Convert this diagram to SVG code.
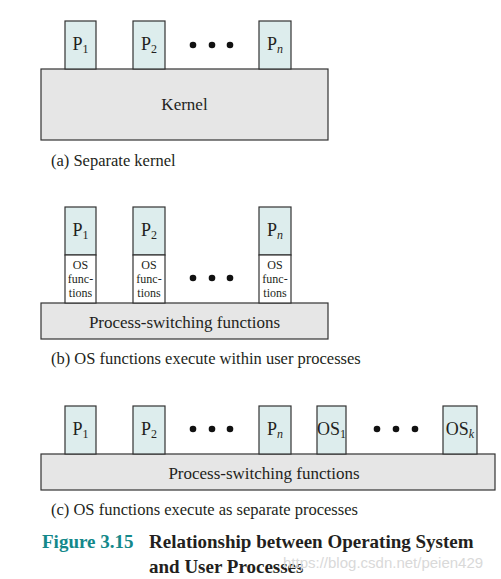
<svg xmlns="http://www.w3.org/2000/svg" width="501" height="579" viewBox="0 0 501 579">
<style>
.p{fill:#ddeded;stroke:#333;stroke-width:1.2}
.os{fill:#fff;stroke:#333;stroke-width:1.2}
.base{fill:#e6e6e6;stroke:#333;stroke-width:1.2}
text{font-family:"Liberation Serif","Times New Roman",serif;fill:#231f20}
.lbl{font-size:17px;text-anchor:middle}
.pl{font-size:18px;text-anchor:middle}
.sm{font-size:12px;text-anchor:middle}
.cap{font-size:16.5px}
.fig{font-size:19px;font-weight:bold}
.dot{fill:#111}
</style>
<rect width="501" height="579" fill="#fff"/>
<!-- (a) -->
<g id="a-kernel"><rect class="base" x="41" y="69" width="287" height="71"/><text class="lbl" x="184.5" y="110">Kernel</text></g>
<g id="a-p1"><rect class="p" x="65" y="21" width="31" height="48"/><text class="pl" x="80.5" y="50">P<tspan font-size="12" dy="3">1</tspan></text></g>
<g id="a-p2"><rect class="p" x="133" y="21" width="32" height="48"/><text class="pl" x="149" y="50">P<tspan font-size="12" dy="3">2</tspan></text></g>
<g id="a-dots"><circle class="dot" cx="193" cy="45" r="3.3"/><circle class="dot" cx="212" cy="45" r="3.3"/><circle class="dot" cx="230" cy="45" r="3.3"/></g>
<g id="a-pn"><rect class="p" x="259" y="21" width="32" height="48"/><text class="pl" x="275" y="50">P<tspan font-size="12" font-style="italic" dy="3">n</tspan></text></g>
<text class="cap" x="51" y="166">(a) Separate kernel</text>
<!-- (b) -->
<g id="b-base"><rect class="base" x="41" y="303" width="287" height="36"/><text class="lbl" x="184.5" y="328">Process-switching functions</text></g>
<g id="b-p1"><rect class="p" x="65" y="207" width="31" height="48"/><rect class="os" x="65" y="255" width="31" height="48"/><text class="pl" x="80.5" y="236">P<tspan font-size="12" dy="3">1</tspan></text><text class="sm" x="80.5" y="269">OS</text><text class="sm" x="80.5" y="283">func-</text><text class="sm" x="80.5" y="297">tions</text></g>
<g id="b-p2"><rect class="p" x="133" y="207" width="32" height="48"/><rect class="os" x="133" y="255" width="32" height="48"/><text class="pl" x="149" y="236">P<tspan font-size="12" dy="3">2</tspan></text><text class="sm" x="149" y="269">OS</text><text class="sm" x="149" y="283">func-</text><text class="sm" x="149" y="297">tions</text></g>
<g id="b-dots"><circle class="dot" cx="193" cy="278" r="3.3"/><circle class="dot" cx="212" cy="278" r="3.3"/><circle class="dot" cx="230" cy="278" r="3.3"/></g>
<g id="b-pn"><rect class="p" x="259" y="207" width="32" height="48"/><rect class="os" x="259" y="255" width="32" height="48"/><text class="pl" x="275" y="236">P<tspan font-size="12" font-style="italic" dy="3">n</tspan></text><text class="sm" x="275" y="269">OS</text><text class="sm" x="275" y="283">func-</text><text class="sm" x="275" y="297">tions</text></g>
<text class="cap" x="51" y="364">(b) OS functions execute within user processes</text>
<!-- (c) -->
<g id="c-base"><rect class="base" x="41" y="454" width="454" height="36"/><text class="lbl" x="264" y="479">Process-switching functions</text></g>
<g id="c-p1"><rect class="p" x="65" y="406" width="31" height="48"/><text class="pl" x="80.5" y="435">P<tspan font-size="12" dy="3">1</tspan></text></g>
<g id="c-p2"><rect class="p" x="133" y="406" width="32" height="48"/><text class="pl" x="149" y="435">P<tspan font-size="12" dy="3">2</tspan></text></g>
<g id="c-dots1"><circle class="dot" cx="193" cy="429" r="3.3"/><circle class="dot" cx="212" cy="429" r="3.3"/><circle class="dot" cx="230" cy="429" r="3.3"/></g>
<g id="c-pn"><rect class="p" x="259" y="406" width="32" height="48"/><text class="pl" x="275" y="435">P<tspan font-size="12" font-style="italic" dy="3">n</tspan></text></g>
<g id="c-os1"><rect class="p" x="317" y="406" width="29" height="48"/><text class="pl" x="331.5" y="435">OS<tspan font-size="12" dy="3">1</tspan></text></g>
<g id="c-dots2"><circle class="dot" cx="377" cy="429" r="3.3"/><circle class="dot" cx="396" cy="429" r="3.3"/><circle class="dot" cx="415" cy="429" r="3.3"/></g>
<g id="c-osk"><rect class="p" x="443" y="406" width="34" height="48"/><text class="pl" x="460" y="435">OS<tspan font-size="12" font-style="italic" dy="3">k</tspan></text></g>
<text class="cap" x="51" y="515">(c) OS functions execute as separate processes</text>
<!-- caption -->
<text class="fig" x="42" y="548" style="fill:#14888a">Figure 3.15</text>
<text class="fig" x="149" y="548">Relationship between Operating System</text>
<text class="fig" x="149" y="573">and User Processes</text>
<text x="283" y="568" style="font-family:'Liberation Sans',Arial,sans-serif;font-size:15px;fill:#d9d9d9">https://blog.csdn.net/peien429</text>
</svg>
